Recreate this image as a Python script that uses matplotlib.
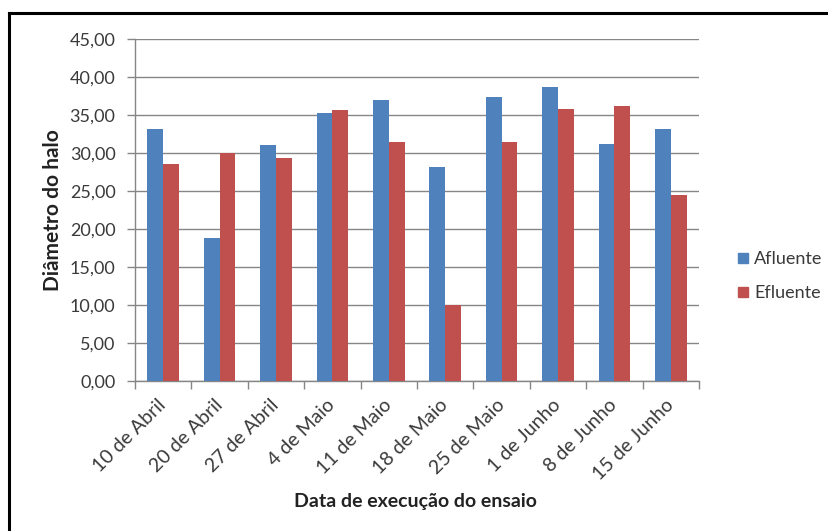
import matplotlib
matplotlib.use("Agg")
import matplotlib.pyplot as plt
import numpy as np
from matplotlib.ticker import FuncFormatter, MultipleLocator
from matplotlib.lines import Line2D

datas = ["10 de Abril", "20 de Abril", "27 de Abril", "4 de Maio", "11 de Maio",
         "18 de Maio", "25 de Maio", "1 de Junho", "8 de Junho", "15 de Junho"]
afluente = [33.2, 18.8, 31.1, 35.3, 37.0, 28.1, 37.4, 38.7, 31.2, 33.1]
efluente = [28.6, 30.0, 29.3, 35.6, 31.4, 10.0, 31.4, 35.8, 36.2, 24.5]

plt.rcParams['font.family'] = ['Lato', 'DejaVu Sans']
text_color = '#3a3a3a'
axis_gray = '#868686'

fig = plt.figure(figsize=(8.29, 5.31), dpi=100)
ax = fig.add_axes([0.1628, 0.2825, 0.6804, 0.6441])

x = np.arange(len(datas))
w = 0.28
ax.bar(x - w / 2, afluente, width=w, color='#4F81BD', label='Afluente', zorder=3)
ax.bar(x + w / 2, efluente, width=w, color='#C0504D', label='Efluente', zorder=3)

ax.set_xlim(-0.5, len(datas) - 0.5)
ax.set_ylim(0, 45)
ax.yaxis.set_major_locator(MultipleLocator(5))
ax.yaxis.set_major_formatter(FuncFormatter(lambda v, p: f"{v:.2f}".replace('.', ',')))
ax.grid(axis='y', color=axis_gray, linewidth=1.0, zorder=0)

for s in ['top', 'right']:
    ax.spines[s].set_visible(False)
for s in ['left', 'bottom']:
    ax.spines[s].set_color(axis_gray)
    ax.spines[s].set_linewidth(1.0)

# category labels centred, tick marks on category boundaries
ax.set_xticks(x)
ax.set_xticklabels(datas, rotation=45, ha='right', va='center', rotation_mode='anchor',
                   fontsize=14, color=text_color)
ax.tick_params(axis='x', which='major', length=0, pad=15)
ax.set_xticks(np.arange(-0.5, len(datas)), minor=True)
ax.tick_params(axis='x', which='minor', length=6, color=axis_gray, width=1.0)
ax.tick_params(axis='y', length=6, color=axis_gray, width=1.0,
               labelsize=13, labelcolor=text_color, pad=8)

ax.set_ylabel('Diâmetro do halo', fontsize=15, fontweight='bold',
              color='#222222', labelpad=5)
fig.text(0.5006, 1 - 502 / 531, 'Data de execução do ensaio', ha='center', va='center',
         fontsize=14, fontweight='bold', color='#222222')

handles = [Line2D([0], [0], marker='s', linestyle='none', markersize=7,
                  markerfacecolor=c, markeredgecolor=c) for c in ['#4F81BD', '#C0504D']]
fig.legend(handles, ['Afluente', 'Efluente'], loc='center left',
           bbox_to_anchor=(0.868, 1 - 276 / 531), frameon=False, fontsize=13,
           handletextpad=0.2, labelspacing=1.0, labelcolor=text_color,
           handlelength=0.8)

# outer chart frame (left and top edges)
fig.add_artist(Line2D([9 / 829, 9 / 829], [0, 1 - 13 / 531], transform=fig.transFigure,
                      color='black', linewidth=2.2))
fig.add_artist(Line2D([9 / 829, 1], [1 - 13 / 531, 1 - 13 / 531], transform=fig.transFigure,
                      color='black', linewidth=2.2))

fig.savefig('out.png', dpi=100)
